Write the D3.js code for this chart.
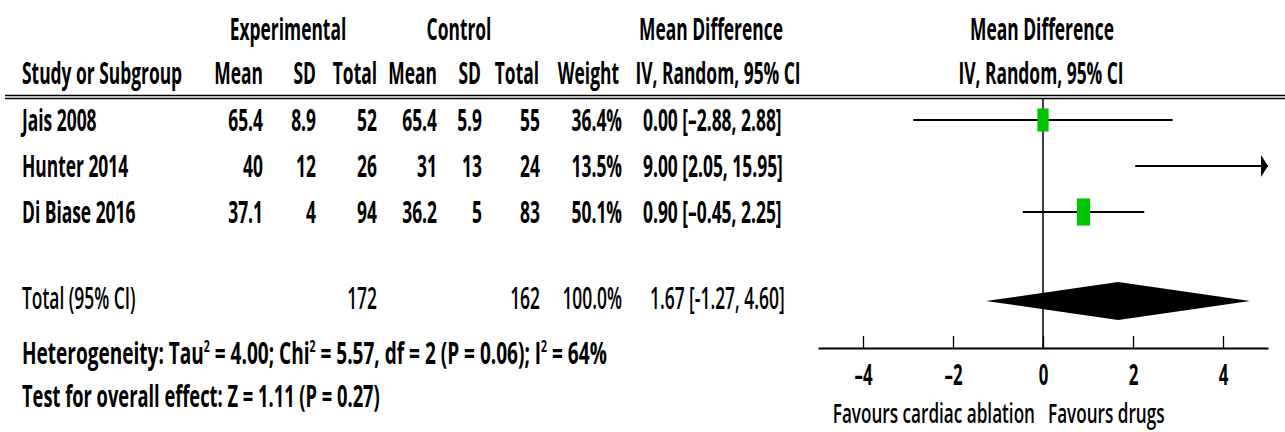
<!DOCTYPE html>
<html>
<head>
<meta charset="utf-8">
<script src="https://cdn.jsdelivr.net/npm/d3@7"></script>
<style>
  html, body { margin: 0; padding: 0; background: #fff; }
  svg { display: block; }
  text { font-family: "Open Sans", "Noto Sans", sans-serif; fill: #000; }
</style>
</head>
<body>
<svg id="chart" width="1285" height="432"></svg>
<script>
// Study-level data
const studies   = ["Jais 2008", "Hunter 2014", "Di Biase 2016"];
const expMean   = [65.4, 40, 37.1];
const expSD     = [8.9, 12, 4];
const expTotal  = [52, 26, 94];
const ctlMean   = [65.4, 31, 36.2];
const ctlSD     = [5.9, 13, 5];
const ctlTotal  = [55, 24, 83];
const weights   = [36.4, 13.5, 50.1];
const md        = [0.00, 9.00, 0.90];
const ciLow     = [-2.88, 2.05, -0.45];
const ciHigh    = [2.88, 15.95, 2.25];

// Pooled estimate
const totalExp  = 172;
const totalCtl  = 162;
const totalW    = 100.0;
const pooledMD  = 1.67;
const pooledLo  = -1.27;
const pooledHi  = 4.60;

const axisTicks = [-4, -2, 0, 2, 4];
const axisDomain = [-5, 5];

const svg = d3.select("#chart");
const SX = 0.58;          // horizontal squeeze of the condensed type
const FS = 30;

function txt(x, y, s, opts = {}) {
  return svg.append("text")
    .attr("transform", `translate(${x},${y}) scale(${opts.sx || SX},1)`)
    .attr("text-anchor", opts.anchor || "start")
    .attr("font-size", opts.size || FS)
    .attr("font-weight", opts.weight || 700)
    .text(s);
}

const f1 = d3.format(".1f");
const f2 = v => Math.abs(v).toFixed(2);
const dash = v => (v < 0 ? "\u2013" : "") + f2(v);
const hyph = v => (v < 0 ? "-" : "") + f2(v);
const numFmt = v => String(v);

// Header
const hy1 = 40, hy2 = 84;
txt(288, hy1, "Experimental", {anchor: "middle"});
txt(459, hy1, "Control", {anchor: "middle"});
txt(711, hy1, "Mean Difference", {anchor: "middle"});
txt(1042, hy1, "Mean Difference", {anchor: "middle"});

txt(22, hy2, "Study or Subgroup");
txt(263, hy2, "Mean", {anchor: "end"});
txt(316, hy2, "SD", {anchor: "end"});
txt(377, hy2, "Total", {anchor: "end"});
txt(437, hy2, "Mean", {anchor: "end"});
txt(481, hy2, "SD", {anchor: "end"});
txt(539, hy2, "Total", {anchor: "end"});
txt(619, hy2, "Weight", {anchor: "end"});
txt(718, hy2, "IV, Random, 95% CI", {anchor: "middle"});
txt(1041, hy2, "IV, Random, 95% CI", {anchor: "middle"});

// Double rule under the header
svg.append("line").attr("x1", 5).attr("x2", 1285).attr("y1", 95.5).attr("y2", 95.5)
  .attr("stroke", "#000").attr("stroke-width", 1.4);
svg.append("line").attr("x1", 5).attr("x2", 1285).attr("y1", 98.5).attr("y2", 98.5)
  .attr("stroke", "#000").attr("stroke-width", 1.4);

// Forest plot scale
const x = d3.scaleLinear().domain(axisDomain).range([818, 1268]);
const rowY = d3.scalePoint().domain(studies).range([120, 212]);
const totalY = 301;
const axisY = 348;

// Study rows: table text
studies.forEach((s, i) => {
  const y = rowY(s) + 11;
  txt(22, y, s);
  txt(263, y, numFmt(expMean[i]), {anchor: "end"});
  txt(316, y, numFmt(expSD[i]), {anchor: "end"});
  txt(377, y, numFmt(expTotal[i]), {anchor: "end"});
  txt(437, y, numFmt(ctlMean[i]), {anchor: "end"});
  txt(482, y, numFmt(ctlSD[i]), {anchor: "end"});
  txt(540, y, numFmt(ctlTotal[i]), {anchor: "end"});
  txt(622, y, f1(weights[i]) + "%", {anchor: "end"});
  txt(643, y, `${f2(md[i])} [${dash(ciLow[i])}, ${dash(ciHigh[i])}]`);
});

// Total row
const ty = totalY + 8;
txt(22, ty, "Total (95% CI)", {weight: 600});
txt(377, ty, String(totalExp), {anchor: "end", weight: 600});
txt(540, ty, String(totalCtl), {anchor: "end", weight: 600});
txt(622, ty, f1(totalW) + "%", {anchor: "end", weight: 600});
txt(650, ty, `${f2(pooledMD)} [${hyph(pooledLo)}, ${hyph(pooledHi)}]`, {weight: 600});

// Heterogeneity and overall effect (with superscript 2s)
function supLine(x0, y, sx, parts) {
  const t = svg.append("text")
    .attr("transform", `translate(${x0},${y}) scale(${sx},1)`)
    .attr("font-size", FS).attr("font-weight", 700);
  let raised = false;
  parts.forEach(p => {
    if (p.sup) {
      t.append("tspan").attr("font-size", FS * 0.55).attr("dy", -12).text(p.sup);
      raised = true;
    } else {
      const sp = t.append("tspan").text(p.t);
      if (raised) { sp.attr("dy", 12); raised = false; }
    }
  });
}
supLine(22, 364, 0.635, [
  {t: "Heterogeneity: Tau"}, {sup: "2"}, {t: " = 4.00; Chi"}, {sup: "2"},
  {t: " = 5.57, df = 2 (P = 0.06); I"}, {sup: "2"}, {t: " = 64%"}
]);
txt(22, 407, "Test for overall effect: Z = 1.11 (P = 0.27)", {sx: 0.61});

// Zero line
svg.append("line").attr("x1", x(0)).attr("x2", x(0)).attr("y1", 98).attr("y2", axisY)
  .attr("stroke", "#000").attr("stroke-width", 1.5);

// Confidence intervals
const [dMin, dMax] = axisDomain;
studies.forEach((s, i) => {
  const y = rowY(s);
  const lo = Math.max(ciLow[i], dMin), hi = Math.min(ciHigh[i], dMax);
  svg.append("line").attr("x1", x(lo)).attr("x2", x(hi)).attr("y1", y).attr("y2", y)
    .attr("stroke", "#000").attr("stroke-width", 2);
  if (ciHigh[i] > dMax) {
    const xe = x(dMax);
    svg.append("path").attr("d", `M${xe},${y} L${xe - 7},${y - 11} L${xe - 7},${y + 11} Z`).attr("fill", "#000");
  }
  if (ciLow[i] < dMin) {
    const xs = x(dMin);
    svg.append("path").attr("d", `M${xs},${y} L${xs + 7},${y - 11} L${xs + 7},${y + 11} Z`).attr("fill", "#000");
  }
  // weight square (area proportional to weight), only when the estimate is on the axis
  if (md[i] >= dMin && md[i] <= dMax) {
    const w = 1.87 * Math.sqrt(weights[i]);
    const h = w * 2.05;
    svg.append("rect").attr("x", x(md[i]) - w / 2).attr("y", y - h / 2)
      .attr("width", w).attr("height", h).attr("fill", "#00c400");
  }
});

// Pooled diamond
svg.append("path")
  .attr("d", `M${x(pooledLo)},${totalY} L${x(pooledMD)},${totalY - 19} L${x(pooledHi)},${totalY} L${x(pooledMD)},${totalY + 19} Z`)
  .attr("fill", "#000");

// Axis
const axis = d3.axisBottom(x).tickValues(axisTicks).tickSizeInner(-12).tickSizeOuter(0).tickPadding(0)
  .tickFormat(d => (d < 0 ? "\u2013" + (-d) : String(d)));
const ag = svg.append("g").attr("transform", `translate(0,${axisY})`).call(axis);
ag.select(".domain").attr("stroke", "#000").attr("stroke-width", 2);
ag.selectAll(".tick line").attr("stroke", "#000").attr("stroke-width", 1.3);
ag.selectAll(".tick text")
  .attr("y", 0).attr("dy", 0)
  .attr("transform", `translate(0,37) scale(${SX},1)`)
  .attr("font-size", 29).attr("font-weight", 700)
  .attr("font-family", "'Open Sans', sans-serif").attr("fill", "#000");

// Direction labels
txt(x(0) - 8, 423, "Favours cardiac ablation", {anchor: "end", weight: 600, size: 27, sx: 0.635});
txt(x(0) + 5, 423, "Favours drugs", {weight: 600, size: 27, sx: 0.635});
</script>
</body>
</html>
